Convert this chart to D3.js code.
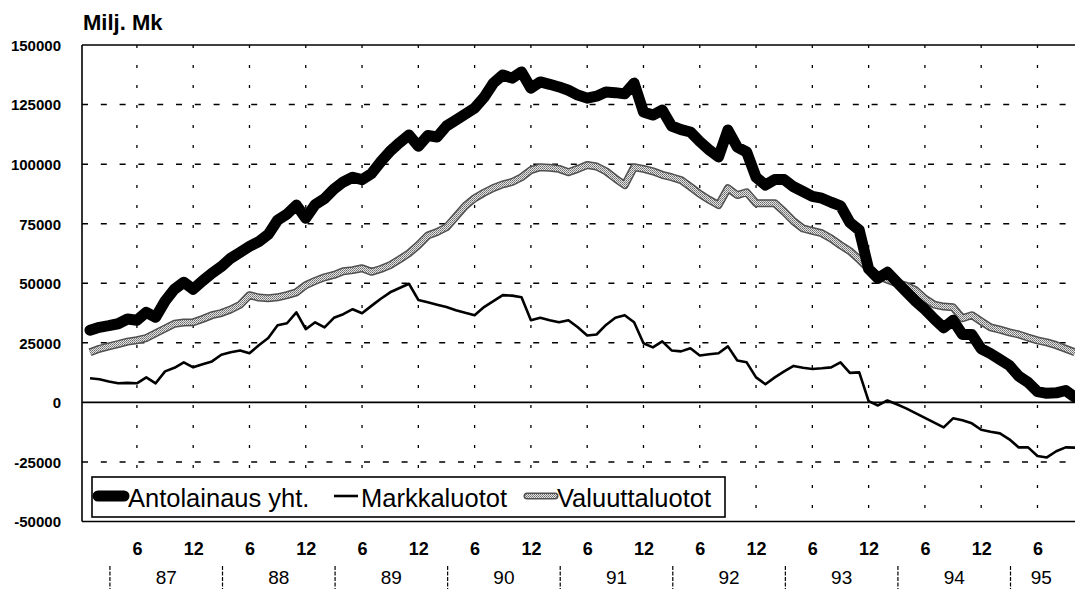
<!DOCTYPE html>
<html>
<head>
<meta charset="utf-8">
<script src="https://cdn.jsdelivr.net/npm/d3@7"></script>
<style>
  body { margin: 0; background: #fff; }
  svg { display: block; font-family: "Liberation Sans", Arial, sans-serif; }
</style>
</head>
<body>
<div id="chart"></div>
<script>
// Monthly data, Jan 1987 onwards (Milj. Mk)
var antolainaus = [
  30300, 31500, 32200, 33000, 35000, 34500, 37800, 35700, 42500, 47500, 50400, 47500,
  51000, 54200, 57000, 60500, 63000, 65500, 67500, 70500, 76500, 79000, 82800, 77300,
  83000, 85500, 89500, 92500, 94500, 93500, 96000, 101000, 105500, 109000, 112200, 107500,
  112000, 111400, 116000, 118500, 121000, 123500, 128000, 134000, 137400, 136100, 138700, 131900,
  134500, 133500, 132400, 131000, 129000, 127700, 128500, 130300, 130000, 129500, 134000, 121900,
  120600, 122700, 116000, 114500, 113500, 109500, 106000, 103000, 114300, 107100, 105100, 94500,
  91200, 93500, 93500, 90500, 88500, 86500, 85700, 84000, 82500, 75500, 72300, 56000,
  52100, 54600, 50500, 46500, 42500, 39000, 35000, 31300, 34500, 28500, 28500, 22500,
  20500, 18000, 15500, 11000, 8400, 4500, 3800, 4000, 5000, 2100
];
var markkaluotot = [
  10100, 9700, 8800, 8000, 8200, 8000, 10500, 8000, 13000, 14500, 16800, 14700,
  16000, 17200, 20000, 21000, 21800, 20600, 24000, 27000, 32400, 33200, 37800, 30700,
  33600, 31500, 35500, 37000, 39100, 37400, 40500, 43500, 46200, 48000, 49800, 43000,
  42000, 41000, 40000, 38700, 37600, 36600, 40000, 42500, 45000, 44800, 44100, 34500,
  35500, 34500, 33600, 34500, 31500, 28100, 28500, 32500, 35500, 36600, 33600, 24800,
  23100, 25600, 21800, 21400, 22700, 19700, 20200, 20600, 23500, 17600, 16800, 10500,
  7600, 10500, 13000, 15300, 14500, 14000, 14300, 14700, 16800, 12400, 12600, 500,
  -1300, 800, -800, -2500, -4500, -6500, -8500, -10500, -6700, -7500, -8800, -11500,
  -12300, -13000, -15500, -18900, -18900, -22500, -23100, -20500, -18900, -19000
];
var valuuttaluotot = [
  21000, 22500, 23500, 24500, 25500, 26100, 27000, 29000, 31000, 33000, 33500, 33600,
  35000, 36600, 37500, 39000, 41000, 45000, 44000, 43700, 44100, 45000, 46200, 49200,
  51000, 52500, 53500, 55000, 55500, 56300, 54800, 56000, 57600, 60000, 62600, 66000,
  70000, 71500, 73500, 78000, 82500, 85700, 88000, 90000, 91500, 92500, 94500, 97500,
  98700, 98500, 98000, 96600, 98000, 99600, 99000, 97000, 94000, 91200, 98700, 98000,
  97000, 95500, 94500, 93300, 90500, 87500, 85000, 82800, 89900, 87000, 88200, 83600,
  83600, 83600, 80000, 76000, 73000, 72000, 71000, 68800, 66000, 63500, 60000, 56000,
  53000, 51500, 50000, 49000, 47100, 43500, 41000, 40200, 39900, 35300, 36600, 34000,
  31500, 30500, 29400, 28500, 27200, 26000, 25200, 24000, 22500, 21000
];
var yTicks = [-50000, -25000, 0, 25000, 50000, 75000, 100000, 125000, 150000];
var years = ["87", "88", "89", "90", "91", "92", "93", "94", "95"];
var monthTickLabels = ["6", "12"];

var w = 1075;
var h = 589;
var plotLeft = 82, plotTop = 45, plotBottom = 521.5;
var n = antolainaus.length;

var xScale = d3.scaleLinear()
    .domain([0, 105])
    .range([90, 1075]);

var yScale = d3.scaleLinear()
    .domain([-50000, 150000])
    .range([plotBottom, plotTop]);

var svg = d3.select("#chart")
    .append("svg")
    .attr("width", w)
    .attr("height", h);

var defs = svg.append("defs");
defs.append("clipPath")
    .attr("id", "plot")
    .append("rect")
    .attr("x", plotLeft)
    .attr("y", 0)
    .attr("width", w - plotLeft)
    .attr("height", plotBottom + 2);

// speckled grey texture for Valuuttaluotot
var pat = defs.append("pattern")
    .attr("id", "speckle")
    .attr("width", 2)
    .attr("height", 2)
    .attr("patternUnits", "userSpaceOnUse");
pat.append("rect").attr("width", 2).attr("height", 2).attr("fill", "#e4e4e4");
pat.append("rect").attr("width", 1).attr("height", 1).attr("fill", "#6a6a6a");
pat.append("rect").attr("x", 1).attr("y", 1).attr("width", 1).attr("height", 1).attr("fill", "#8a8a8a");

// horizontal dashed gridlines
svg.append("g")
    .selectAll("line")
    .data(yTicks.filter(function(d) { return d !== 0 && d !== 150000 && d !== -50000; }))
    .enter()
    .append("line")
    .attr("x1", plotLeft)
    .attr("x2", w)
    .attr("y1", function(d) { return yScale(d); })
    .attr("y2", function(d) { return yScale(d); })
    .attr("stroke", "#000")
    .attr("stroke-width", 1.5)
    .attr("stroke-dasharray", "6,12.8");

// vertical dotted gridlines every 6 months
var gridMonths = d3.range(5, n, 6);
svg.append("g")
    .selectAll("line")
    .data(gridMonths)
    .enter()
    .append("line")
    .attr("x1", function(d) { return xScale(d); })
    .attr("x2", function(d) { return xScale(d); })
    .attr("y1", plotTop)
    .attr("y2", plotBottom)
    .attr("stroke", "#000")
    .attr("stroke-width", 1.3)
    .attr("stroke-dasharray", "3,17");

// solid frame lines: top, zero, bottom, left
svg.append("g")
    .selectAll("line")
    .data([150000, 0, -50000])
    .enter()
    .append("line")
    .attr("x1", plotLeft)
    .attr("x2", w)
    .attr("y1", function(d) { return yScale(d); })
    .attr("y2", function(d) { return yScale(d); })
    .attr("stroke", "#000")
    .attr("stroke-width", 1.6);

svg.append("line")
    .attr("x1", plotLeft).attr("x2", plotLeft)
    .attr("y1", plotTop).attr("y2", plotBottom)
    .attr("stroke", "#000")
    .attr("stroke-width", 1.6);

// series
var line = d3.line()
    .x(function(d, i) { return xScale(i); })
    .y(function(d) { return yScale(d); });

var series = svg.append("g").attr("clip-path", "url(#plot)");

series.append("path")
    .datum(valuuttaluotot)
    .attr("d", line)
    .attr("fill", "none")
    .attr("stroke", "#505050")
    .attr("stroke-width", 8)
    .attr("stroke-linejoin", "round");
series.append("path")
    .datum(valuuttaluotot)
    .attr("d", line)
    .attr("fill", "none")
    .attr("stroke", "url(#speckle)")
    .attr("stroke-width", 5)
    .attr("stroke-linejoin", "round");

series.append("path")
    .datum(markkaluotot)
    .attr("d", line)
    .attr("fill", "none")
    .attr("stroke", "#000")
    .attr("stroke-width", 2.6)
    .attr("stroke-linejoin", "round");

series.append("path")
    .datum(antolainaus)
    .attr("d", line)
    .attr("fill", "none")
    .attr("stroke", "#000")
    .attr("stroke-width", 11)
    .attr("stroke-linejoin", "round")
    .attr("stroke-linecap", "round");

// y axis labels
var yAxis = d3.axisLeft(yScale)
    .tickValues(yTicks)
    .tickSize(0)
    .tickPadding(0)
    .tickFormat(function(d) { return String(d); });

var yg = svg.append("g")
    .attr("transform", "translate(61,0)")
    .call(yAxis);
yg.select(".domain").remove();
yg.selectAll("text")
    .attr("font-family", "'Liberation Sans', Arial, sans-serif")
    .attr("font-size", 15)
    .attr("font-weight", "bold")
    .attr("fill", "#000")
    .attr("dy", "0.36em");

svg.append("text")
    .attr("x", 83)
    .attr("y", 30)
    .attr("font-size", 22)
    .attr("font-weight", "bold")
    .text("Milj. Mk");

// month labels 6 / 12
var monthTicks = d3.range(5, n, 6);
var xAxis = d3.axisBottom(xScale)
    .tickValues(monthTicks)
    .tickSize(0)
    .tickPadding(0)
    .tickFormat(function(d) { return monthTickLabels[(d - 5) / 6 % 2]; });

var xg = svg.append("g")
    .attr("transform", "translate(0,542)")
    .call(xAxis);
xg.select(".domain").remove();
xg.selectAll("text")
    .attr("font-family", "'Liberation Sans', Arial, sans-serif")
    .attr("font-size", 18)
    .attr("font-weight", "bold")
    .attr("fill", "#000");

// year separators and labels
var sepStart = 2.125;
var yearGroup = svg.append("g");
yearGroup.selectAll("line")
    .data(years)
    .enter()
    .append("line")
    .attr("x1", function(d, i) { return xScale(sepStart + 12 * i); })
    .attr("x2", function(d, i) { return xScale(sepStart + 12 * i); })
    .attr("y1", 566)
    .attr("y2", 589)
    .attr("stroke", "#000")
    .attr("stroke-width", 1.2)
    .attr("stroke-dasharray", "4,1.5");

yearGroup.selectAll("text")
    .data(years)
    .enter()
    .append("text")
    .attr("x", function(d, i) {
        var a = sepStart + 12 * i;
        var b = Math.min(a + 12, 104.7);
        return xScale((a + b) / 2);
    })
    .attr("y", 584)
    .attr("text-anchor", "middle")
    .attr("font-size", 19)
    .text(function(d) { return d; });

// legend
var legend = svg.append("g");
legend.append("rect")
    .attr("x", 92)
    .attr("y", 477)
    .attr("width", 633)
    .attr("height", 40)
    .attr("fill", "#fff")
    .attr("stroke", "#000")
    .attr("stroke-width", 1.6);

var legendItems = [
    { name: "Antolainaus yht.", x1: 98, x2: 124, tx: 128, kind: "thick" },
    { name: "Markkaluotot", x1: 334, x2: 358, tx: 361, kind: "thin" },
    { name: "Valuuttaluotot", x1: 527, x2: 555, tx: 557, kind: "grey" }
];
var ly = 496;
legendItems.forEach(function(it) {
    if (it.kind === "thick") {
        legend.append("line")
            .attr("x1", it.x1).attr("x2", it.x2).attr("y1", ly).attr("y2", ly)
            .attr("stroke", "#000").attr("stroke-width", 11).attr("stroke-linecap", "round");
    } else if (it.kind === "thin") {
        legend.append("line")
            .attr("x1", it.x1).attr("x2", it.x2).attr("y1", ly).attr("y2", ly)
            .attr("stroke", "#000").attr("stroke-width", 2.6);
    } else {
        legend.append("line")
            .attr("x1", it.x1).attr("x2", it.x2).attr("y1", ly).attr("y2", ly)
            .attr("stroke", "#505050").attr("stroke-width", 7).attr("stroke-linecap", "round");
        legend.append("line")
            .attr("x1", it.x1).attr("x2", it.x2).attr("y1", ly).attr("y2", ly)
            .attr("stroke", "url(#speckle)").attr("stroke-width", 4).attr("stroke-linecap", "round");
    }
    legend.append("text")
        .attr("x", it.tx)
        .attr("y", 507)
        .attr("font-size", 25.5)
        .text(it.name);
});
</script>
</body>
</html>
